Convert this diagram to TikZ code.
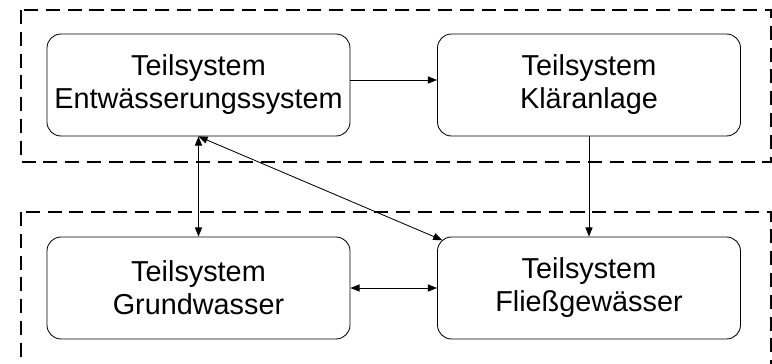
\documentclass[tikz,border=0pt]{standalone}
\usepackage{fontspec}
\setmainfont{Liberation Sans}
\usetikzlibrary{positioning,arrows.meta}
\definecolor{linegray}{RGB}{0,0,0}
\tikzset{
  teilbox/.style={draw=linegray,line width=0.6pt,rounded corners=0.35cm,
    minimum width=7.575cm,minimum height=2.55cm,align=center,
    font=\fontsize{20.5}{23.5}\selectfont},
  gruppe/.style={draw=linegray,line width=1.5pt,dash pattern=on 10pt off 5.5pt},
  fluss/.style={draw=linegray,line width=0.6pt,-{Triangle[length=6.5pt,width=5pt]}},
  wechsel/.style={draw=linegray,line width=0.6pt,
    {Triangle[length=6.5pt,width=5pt]}-{Triangle[length=6.5pt,width=5pt]}}
}

\begin{document}
\begin{tikzpicture}
        \useasboundingbox (0,0) rectangle (19.3,-9.1);

        % Gruppen
        \draw[gruppe] (0.525,-0.25) rectangle (19.275,-4.05);
        \draw[gruppe] (0.525,-5.3) rectangle (19.275,-9.12);

        % Teilsysteme
        \node[teilbox] (ent) at (4.9625,-2.125)
          {Teilsystem\\Entwässerungssystem};
        \node[teilbox] (klaer) at (14.725,-2.125)
          {Teilsystem\\Kläranlage};
        \node[teilbox] (grund) at (4.9625,-7.2)
          {Teilsystem\\Grundwasser};
        \node[teilbox] (fliess) at (14.725,-7.2)
          {Teilsystem\\Fließgewässer};

        % Verbindungen
        \draw[fluss] ([yshift=0.125cm]ent.east) -- ([yshift=0.125cm]klaer.west);
        \draw[fluss] (klaer.south) -- (fliess.north);
        \draw[wechsel] (ent.south) -- (grund.north);
        \draw[wechsel] (grund.east) -- (fliess.west);
        \draw[wechsel] (ent.south) -- ([shift={(0.13,-0.09)}]fliess.north west);
      \end{tikzpicture}
\end{document}
